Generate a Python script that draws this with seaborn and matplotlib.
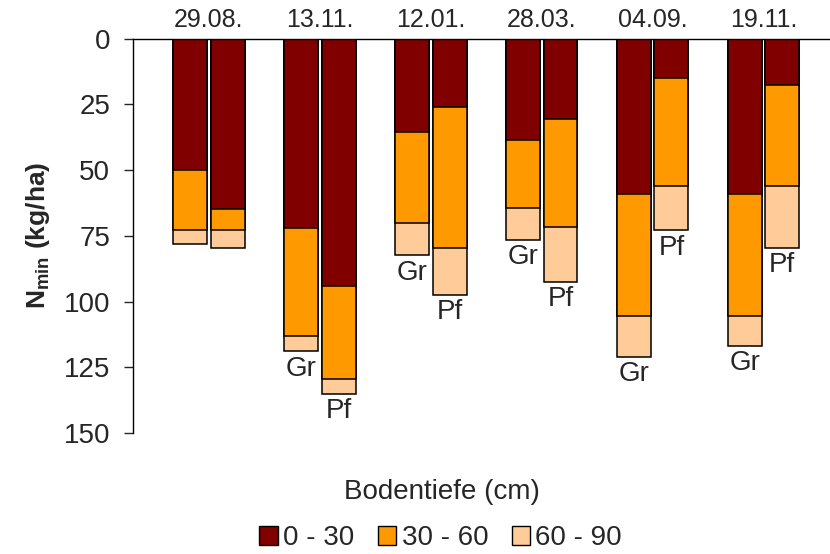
import pandas as pd
import matplotlib
import matplotlib.pyplot as plt
import seaborn as sns
from matplotlib.patches import Patch
matplotlib.use('Agg')

# Nmin je Schicht (kg/ha), Gr = Gruenland?, Pf = Pflug
dates = ["29.08.", "13.11.", "12.01.", "28.03.", "04.09.", "19.11."]
gr_0_30 = [50, 72, 35.5, 38.5, 59, 59]
gr_30_60 = [23, 41, 34.5, 26, 46.5, 46.5]
gr_60_90 = [5, 6, 12.5, 12, 15.5, 11.5]
pf_0_30 = [65, 94, 26, 30.5, 15, 17.5]
pf_30_60 = [8, 35.5, 53.5, 41, 41, 38.5]
pf_60_90 = [6.5, 5.5, 18, 21, 17, 23.5]
gr_labels = ["", "Gr", "Gr", "Gr", "Gr", "Gr"]
pf_labels = ["", "Pf", "Pf", "Pf", "Pf", "Pf"]

layers = ["0 - 30", "30 - 60", "60 - 90"]
colors = ["#800000", "#FF9900", "#FFCC99"]

sns.set_style("white")
plt.rcParams['font.family'] = ['Liberation Sans', 'DejaVu Sans']
plt.rcParams['mathtext.fontset'] = 'custom'
plt.rcParams['mathtext.rm'] = 'Liberation Sans'
plt.rcParams['mathtext.bf'] = 'Liberation Sans:bold'

#build a long table with cumulated depths
rows = []
for i, d in enumerate(dates):
    for var, a, b, c in [("Gr", gr_0_30, gr_30_60, gr_60_90), ("Pf", pf_0_30, pf_30_60, pf_60_90)]:
        rows.append({"Datum": d, "Variante": var,
                     "0 - 30": a[i],
                     "30 - 60": a[i] + b[i],
                     "60 - 90": a[i] + b[i] + c[i]})
df = pd.DataFrame(rows)

fig = plt.figure(figsize=(8.3, 5.54), dpi=100)
ax = fig.add_axes([0.1602, 0.2184, 0.8398, 0.7121])

#draw deepest first so the upper layers cover it
for layer, col in zip(layers[::-1], colors[::-1]):
    sns.barplot(data=df, x="Datum", y=layer, hue="Variante", hue_order=["Gr", "Pf"],
                palette=[col, col], width=0.68, gap=0.1, saturation=1,
                edgecolor="black", linewidth=1.1, errorbar=None, legend=False, ax=ax)

ax.set_ylim(150, 0)
ax.set_xlim(-0.685, 5.6)
ax.set_yticks([0, 25, 50, 75, 100, 125, 150])
ax.tick_params(axis='y', direction='out', length=6.5, width=1, pad=10, labelsize=20, left=True)
ax.tick_params(axis='x', bottom=False, labelbottom=False)
for s in ["right", "bottom"]:
    ax.spines[s].set_visible(False)
for s in ["left", "top"]:
    ax.spines[s].set_color("black")
    ax.spines[s].set_linewidth(1)
ax.set_xlabel("")
ax.set_ylabel(r"$\mathbf{N_{min}}$ (kg/ha)", fontsize=19, fontweight='bold', labelpad=8)

totals_gr = df[df.Variante == "Gr"]["60 - 90"].values
totals_pf = df[df.Variante == "Pf"]["60 - 90"].values
for i, d in enumerate(dates):
    ax.annotate(d, (i, 0), xytext=(0, 5), textcoords='offset points',
                ha='center', va='bottom', fontsize=18)
    if gr_labels[i]:
        ax.annotate(gr_labels[i], (i - 0.17, totals_gr[i]), xytext=(0, -3), textcoords='offset points',
                    ha='center', va='top', fontsize=20)
    if pf_labels[i]:
        ax.annotate(pf_labels[i], (i + 0.17, totals_pf[i]), xytext=(0, -3), textcoords='offset points',
                    ha='center', va='top', fontsize=20)

fig.text(0.533, 0.112, "Bodentiefe (cm)", ha='center', va='center', fontsize=20)
handles = [Patch(facecolor=c, edgecolor='black', linewidth=1) for c in colors]
fig.legend(handles, layers, loc='center', bbox_to_anchor=(0.531, 0.028), ncol=3, frameon=False,
           fontsize=20, handlelength=0.65, handleheight=0.65, handletextpad=0.2,
           columnspacing=0.85, borderpad=0.1)

plt.savefig("out.png", dpi=100)
